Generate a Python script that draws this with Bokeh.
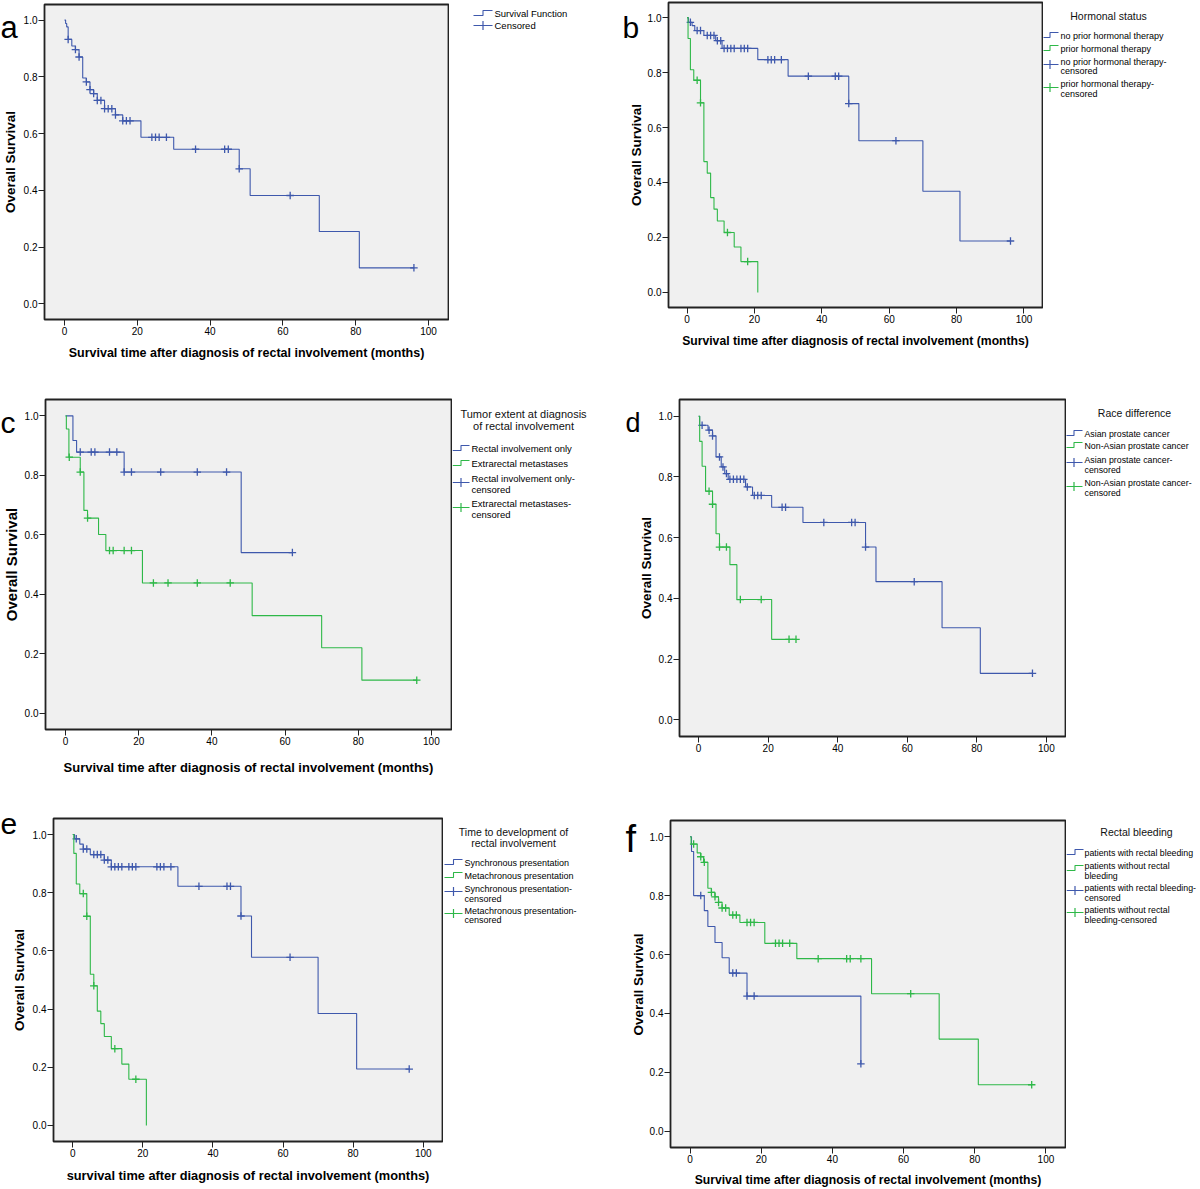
import numpy as np
from bokeh.plotting import figure
from bokeh.layouts import row, column
from bokeh.models import Range1d, FixedTicker, PrintfTickFormatter
from bokeh.core.properties import value
from bokeh.embed import file_html
from bokeh.resources import INLINE

FONT = "Liberation Sans"
BLUE = "#3E58AC"
GREEN = "#2EB848"

# ------------------------------------------------------------------ data
X_TICKS = [0, 20, 40, 60, 80, 100]
Y_TICKS = [0.0, 0.2, 0.4, 0.6, 0.8, 1.0]
Y_LABEL = "Overall Survival"
X_LABEL = "Survival time after diagnosis of rectal involvement (months)"
X_LABEL_E = "survival time after diagnosis of rectal involvement (months)"

# panel a : all patients
a_event_t = [0.3, 0.6, 1, 2, 3, 4, 5, 6, 7, 8, 9, 11, 14, 16, 21, 30, 48, 51, 70, 81]
a_event_s = [0.988, 0.976, 0.932, 0.909, 0.896, 0.870, 0.796, 0.782, 0.755, 0.741, 0.717,
             0.688, 0.666, 0.645, 0.587, 0.545, 0.476, 0.382, 0.255, 0.127]
a_cens_t = [1, 3, 4, 6, 7, 8, 9, 10, 11, 12, 13, 14, 16, 17, 18, 24, 25, 26, 28, 36, 44, 45, 48, 62, 96]
a_end = 96

# panel b : hormonal status
b_no_event_t = [0.4, 1.5, 2.3, 5, 8.5, 10.4, 21, 30, 48, 51, 70, 81]
b_no_event_s = [0.983, 0.971, 0.953, 0.935, 0.916, 0.888, 0.847, 0.787, 0.687, 0.552, 0.368, 0.187]
b_no_cens_t = [1, 3, 4, 6, 7, 8, 9, 10, 11, 12, 13, 14, 16, 17, 18, 24, 25, 26, 28, 36, 44, 45, 48, 62, 96]
b_no_end = 96
b_prior_event_t = [0.3, 1, 2, 4, 5, 6, 7, 8, 9, 11, 14, 16, 21]
b_prior_event_s = [0.924, 0.81, 0.772, 0.69, 0.476, 0.434, 0.345, 0.303, 0.26, 0.218, 0.165, 0.112, 0.0]
b_prior_cens_t = [3, 4, 12, 18]
b_prior_end = 21

# panel c : tumor extent
c_only_event_t = [2, 3, 16, 48]
c_only_event_s = [0.917, 0.878, 0.811, 0.54]
c_only_cens_t = [4, 7, 8, 12, 14, 16, 18, 26, 36, 44, 62]
c_only_end = 62
c_extra_event_t = [0.2, 0.9, 4, 5, 6, 9, 11, 21, 51, 70, 81]
c_extra_event_s = [0.956, 0.861, 0.811, 0.682, 0.656, 0.601, 0.547, 0.438, 0.328, 0.22, 0.111]
c_extra_cens_t = [1, 4, 6, 12, 13, 16, 18, 24, 28, 36, 45, 96]
c_extra_end = 96

# panel d : race
d_asian_event_t = [0.3, 2.7, 4, 5, 6.5, 7.5, 8.5, 13.5, 15.5, 21, 30, 48, 51, 70, 81]
d_asian_event_s = [0.970, 0.954, 0.935, 0.866, 0.833, 0.811, 0.792, 0.767, 0.739, 0.70, 0.65,
                   0.569, 0.455, 0.303, 0.153]
d_asian_cens_t = [1, 3, 4, 6, 7, 8, 9, 10, 11, 12, 13, 14, 16, 17, 18, 24, 25, 36, 44, 45, 48, 62, 96]
d_asian_end = 96
d_non_event_t = [0.3, 1, 2, 4, 5, 6, 9, 11, 21]
d_non_event_s = [0.917, 0.835, 0.753, 0.71, 0.613, 0.569, 0.511, 0.396, 0.265]
d_non_cens_t = [3, 4, 6, 8, 12, 18, 26, 28]
d_non_end = 28

# panel e : time to development
e_sync_event_t = [0.5, 2, 3, 5, 9, 11, 30, 48, 51, 70, 81]
e_sync_event_s = [0.985, 0.967, 0.95, 0.931, 0.912, 0.889, 0.822, 0.72, 0.578, 0.385, 0.194]
e_sync_cens_t = [1, 3, 4, 6, 7, 8, 9, 10, 11, 12, 13, 14, 16, 17, 18, 24, 25, 26, 28, 36, 44, 45, 48, 62, 96]
e_sync_end = 96
e_meta_event_t = [0.3, 1, 2, 4, 5, 6, 7, 8, 9, 11, 14, 16, 21]
e_meta_event_s = [0.935, 0.83, 0.797, 0.719, 0.52, 0.48, 0.393, 0.35, 0.306, 0.264, 0.211, 0.159, 0.0]
e_meta_cens_t = [3, 4, 6, 12, 18]
e_meta_end = 21

# panel f : rectal bleeding
f_with_event_t = [0.4, 1, 4, 5, 7, 9, 11, 16, 48]
f_with_event_s = [0.95, 0.80, 0.749, 0.695, 0.641, 0.589, 0.537, 0.459, 0.229]
f_with_cens_t = [3, 12, 13, 16, 18, 48]
f_with_end = 48
f_without_event_t = [0.3, 2, 3, 3.8, 5, 6, 7, 8, 9, 11, 14, 21, 30, 51, 70, 81]
f_without_event_s = [0.975, 0.945, 0.932, 0.913, 0.825, 0.811, 0.796, 0.777, 0.758, 0.734, 0.709,
                     0.638, 0.586, 0.467, 0.313, 0.158]
f_without_cens_t = [1, 3, 4, 6, 7, 8, 9, 10, 12, 13, 16, 17, 18, 24, 25, 26, 28, 36, 44, 45, 48, 62, 96]
f_without_end = 96

# ------------------------------------------------------------------ helpers
XR = (-5.5, 105.5)
YR = (-0.055, 1.055)
YAXIS_BORDER = 21   # px kept left of each frame for ticks + tick labels
CROSS = 7.5


def km_xy(ev_t, ev_s, end_t):
    return [0.0] + list(ev_t) + [end_t], [1.0] + list(ev_s) + [ev_s[-1]]


def cens_s(ev_t, ev_s, c_t):
    levels = np.concatenate([[1.0], np.asarray(ev_s, float)])
    idx = np.searchsorted(np.asarray(ev_t, float), np.asarray(c_t, float), side="right")
    return levels[idx]


def blank_fig(x0, x1, y0, y1):
    """figure whose data coordinates are page pixels (y downward)"""
    q = figure(width=int(x1 - x0), height=int(y1 - y0), x_range=Range1d(x0, x1),
               y_range=Range1d(y1, y0), toolbar_location=None, output_backend="svg",
               min_border=0, x_axis_location=None, y_axis_location=None,
               outline_line_color=None, frame_align=False)
    q.grid.visible = False
    q.background_fill_color = "white"
    q.border_fill_color = "white"
    return q


def make_panel(g, curves, lg):
    cx0, cx1, cy0, cy1 = g["cell"]
    zx, hx, oy, zy = g["ticks"]
    ppx = (hx - zx) / 100.0
    ppy = (zy - oy)
    FL = int(round(zx + XR[0] * ppx))
    FR = int(round(zx + XR[1] * ppx))
    FT = int(round(zy - YR[1] * ppy))
    FB = int(round(zy - YR[0] * ppy))
    H = cy1 - cy0
    xn1 = FL - YAXIS_BORDER          # right edge of the letter / y-label strip
    xp1 = FR + 1                     # right edge of the plot figure

    # ---- strip with the panel letter and the y-axis title
    n = blank_fig(cx0, xn1, cy0, cy1)
    n.text(x=[g["letter_xy"][0]], y=[g["letter_xy"][1]], text=[g["letter"]],
           text_font=value(FONT), text_font_size=value("%spx" % g["letter_size"]),
           text_align="left", text_baseline="alphabetic", text_color="black")
    n.text(x=[g["ylab_x"]], y=[(FT + FB) / 2.0], text=[Y_LABEL], angle=np.pi / 2,
           text_font=value(FONT), text_font_size=value("%spx" % g["ylab_size"]),
           text_font_style="bold", text_align="center", text_baseline="middle",
           text_color="black")

    # ---- the survival plot
    p = figure(width=xp1 - xn1, height=H, x_range=Range1d(*XR), y_range=Range1d(*YR),
               toolbar_location=None, output_backend="svg", frame_align=False,
               min_border_left=FL - xn1, min_border_right=1,
               min_border_top=FT - cy0, min_border_bottom=cy1 - FB)
    p.background_fill_color = "#F0F0F0"
    p.border_fill_color = "white"
    p.outline_line_color = "#222222"
    p.outline_line_width = 1.8
    p.grid.visible = False
    p.xaxis.ticker = FixedTicker(ticks=X_TICKS)
    p.yaxis.ticker = FixedTicker(ticks=Y_TICKS)
    p.yaxis.formatter = PrintfTickFormatter(format="%.1f")
    for ax in (p.xaxis, p.yaxis):
        ax.axis_line_color = None
        ax.major_tick_out = 6
        ax.major_tick_in = 0
        ax.minor_tick_out = 0
        ax.minor_tick_in = 0
        ax.major_tick_line_color = "#222222"
        ax.major_label_text_font = FONT
        ax.major_label_text_font_size = "10px"
        ax.major_label_text_color = "black"
        ax.axis_label_text_font = FONT
        ax.axis_label_text_font_style = "bold"
        ax.axis_label_text_color = "black"
    p.xaxis.major_label_standoff = 1
    p.yaxis.major_label_standoff = 1
    if g["xlab"]:
        p.xaxis.axis_label = g["xlab"]
        p.xaxis.axis_label_text_font_size = "%spx" % g["xlab_size"]
        p.xaxis.axis_label_standoff = int(g["xlab_off"])
    for c in curves:
        xs, ys = km_xy(c["t"], c["s"], c["end"])
        p.step(xs, ys, mode="after", line_color=c["color"], line_width=1.1)
        p.scatter(c["ct"], cens_s(c["t"], c["s"], c["ct"]), marker="cross", size=CROSS,
                  line_color=c["color"], line_width=1.3)

    # ---- legend strip
    q = blank_fig(xp1, cx1, cy0, cy1)
    if lg["title"]:
        q.text(x=[t[1] for t in lg["title"]], y=[t[2] for t in lg["title"]],
               text=[t[0] for t in lg["title"]], text_font=value(FONT),
               text_font_size=value("%spx" % lg["title_size"]), text_align="center",
               text_baseline="middle", text_color="#111111")
    ix0, ix1 = lg["icon"]
    tx, ty, tt = [], [], []
    for kind, color, lines, iy in lg["items"]:
        if kind == "step":
            xm = ix0 + 0.5 * (ix1 - ix0)
            q.line([ix0, xm, xm, ix1], [iy + 2, iy + 2, iy - 3, iy - 3],
                   line_color=color, line_width=1.1)
        else:
            q.line([ix0, ix1], [iy, iy], line_color=color, line_width=1.1)
            q.scatter([0.5 * (ix0 + ix1)], [iy], marker="cross", size=9,
                      line_color=color, line_width=1.2)
        for txt, yy in lines:
            tx.append(lg["text_x"])
            ty.append(yy)
            tt.append(txt)
    q.text(x=tx, y=ty, text=tt, text_font=value(FONT),
           text_font_size=value("%spx" % lg["text_size"]), text_align="left",
           text_baseline="middle", text_color="black")
    return [n, p, q]


def curve(t, s, ct, end, color):
    return dict(t=t, s=s, ct=ct, end=end, color=color)


PANELS = [
    (dict(cell=(0, 600, 0, 380), ticks=(61, 428, 20, 303), letter="a", letter_xy=(0, 27),
          letter_size=31, ylab_x=10, ylab_size=13.5, xlab=X_LABEL, xlab_size=12.5, xlab_off=8),
     [curve(a_event_t, a_event_s, a_cens_t, a_end, BLUE)],
     dict(title=[], title_size=10.5, icon=(473, 492), text_x=494, text_size=9.5,
          items=[("step", BLUE, [("Survival Function", 13)], 13),
                 ("cens", BLUE, [("Censored", 25)], 25)])),
    (dict(cell=(600, 1200, 0, 380), ticks=(684, 1023, 17, 292), letter="b", letter_xy=(622, 27),
          letter_size=30, ylab_x=636, ylab_size=13.5, xlab=X_LABEL, xlab_size=12.2, xlab_off=8),
     [curve(b_no_event_t, b_no_event_s, b_no_cens_t, b_no_end, BLUE),
      curve(b_prior_event_t, b_prior_event_s, b_prior_cens_t, b_prior_end, GREEN)],
     dict(title=[("Hormonal status", 1108, 15)], title_size=10.5, icon=(1041, 1058),
          text_x=1060, text_size=9,
          items=[("step", BLUE, [("no prior hormonal therapy", 35)], 35),
                 ("step", GREEN, [("prior hormonal therapy", 48)], 48),
                 ("cens", BLUE, [("no prior hormonal therapy-", 61), ("censored", 70)], 64),
                 ("cens", GREEN, [("prior hormonal therapy-", 83), ("censored", 93)], 87)])),
    (dict(cell=(0, 600, 380, 795), ticks=(62.5, 431, 415, 713), letter="c", letter_xy=(0, 422),
          letter_size=30, ylab_x=11, ylab_size=15, xlab=X_LABEL, xlab_size=13, xlab_off=12),
     [curve(c_only_event_t, c_only_event_s, c_only_cens_t, c_only_end, BLUE),
      curve(c_extra_event_t, c_extra_event_s, c_extra_cens_t, c_extra_end, GREEN)],
     dict(title=[("Tumor extent at diagnosis", 523, 413), ("of rectal involvement", 523, 425)],
          title_size=11, icon=(452, 469), text_x=471, text_size=9.5,
          items=[("step", BLUE, [("Rectal involvement only", 448)], 448),
                 ("step", GREEN, [("Extrarectal metastases", 463)], 463),
                 ("cens", BLUE, [("Rectal involvement only-", 478), ("censored", 489)], 482),
                 ("cens", GREEN, [("Extrarectal metastases-", 503), ("censored", 514)], 507)])),
    (dict(cell=(600, 1200, 380, 795), ticks=(695, 1046, 416, 719), letter="d", letter_xy=(625, 422),
          letter_size=27, ylab_x=646, ylab_size=13.5, xlab=None, xlab_size=12.5, xlab_off=8),
     [curve(d_asian_event_t, d_asian_event_s, d_asian_cens_t, d_asian_end, BLUE),
      curve(d_non_event_t, d_non_event_s, d_non_cens_t, d_non_end, GREEN)],
     dict(title=[("Race difference", 1134, 412)], title_size=10.5, icon=(1065, 1082),
          text_x=1084, text_size=8.8,
          items=[("step", BLUE, [("Asian prostate cancer", 433)], 433),
                 ("step", GREEN, [("Non-Asian prostate cancer", 445)], 445),
                 ("cens", BLUE, [("Asian prostate cancer-", 459), ("censored", 469)], 462),
                 ("cens", GREEN, [("Non-Asian prostate cancer-", 482), ("censored", 492)], 486)])),
    (dict(cell=(0, 600, 795, 1189), ticks=(69, 423, 834, 1125), letter="e", letter_xy=(0, 823),
          letter_size=30, ylab_x=19, ylab_size=13.5, xlab=X_LABEL_E, xlab_size=12.8, xlab_off=8),
     [curve(e_sync_event_t, e_sync_event_s, e_sync_cens_t, e_sync_end, BLUE),
      curve(e_meta_event_t, e_meta_event_s, e_meta_cens_t, e_meta_end, GREEN)],
     dict(title=[("Time to development of", 513, 831), ("rectal involvement", 513, 842)],
          title_size=10.5, icon=(444, 462), text_x=464, text_size=9,
          items=[("step", BLUE, [("Synchronous presentation", 862)], 862),
                 ("step", GREEN, [("Metachronous presentation", 875)], 875),
                 ("cens", BLUE, [("Synchronous presentation-", 888), ("censored", 898)], 891),
                 ("cens", GREEN, [("Metachronous presentation-", 910), ("censored", 919)], 913)])),
    (dict(cell=(600, 1200, 795, 1189), ticks=(687, 1045.6, 836, 1132), letter="f", letter_xy=(625, 838),
          letter_size=38, ylab_x=638, ylab_size=13.5, xlab=X_LABEL, xlab_size=12.2, xlab_off=7),
     [curve(f_with_event_t, f_with_event_s, f_with_cens_t, f_with_end, BLUE),
      curve(f_without_event_t, f_without_event_s, f_without_cens_t, f_without_end, GREEN)],
     dict(title=[("Rectal bleeding", 1136, 831)], title_size=10.5, icon=(1066, 1083),
          text_x=1084, text_size=8.8,
          items=[("step", BLUE, [("patients with rectal bleeding", 852)], 852),
                 ("step", GREEN, [("patients without rectal", 865), ("bleeding", 875)], 868),
                 ("cens", BLUE, [("patients with rectal bleeding-", 887), ("censored", 897)], 890),
                 ("cens", GREEN, [("patients without rectal", 909), ("bleeding-censored", 919)], 912)])),
]

parts = [make_panel(g, c, lg) for g, c, lg in PANELS]

layout = column(
    row(*parts[0], *parts[1]),
    row(*parts[2], *parts[3]),
    row(*parts[4], *parts[5]),
)

with open("out.html", "w") as fh:
    fh.write(file_html(layout, INLINE))
